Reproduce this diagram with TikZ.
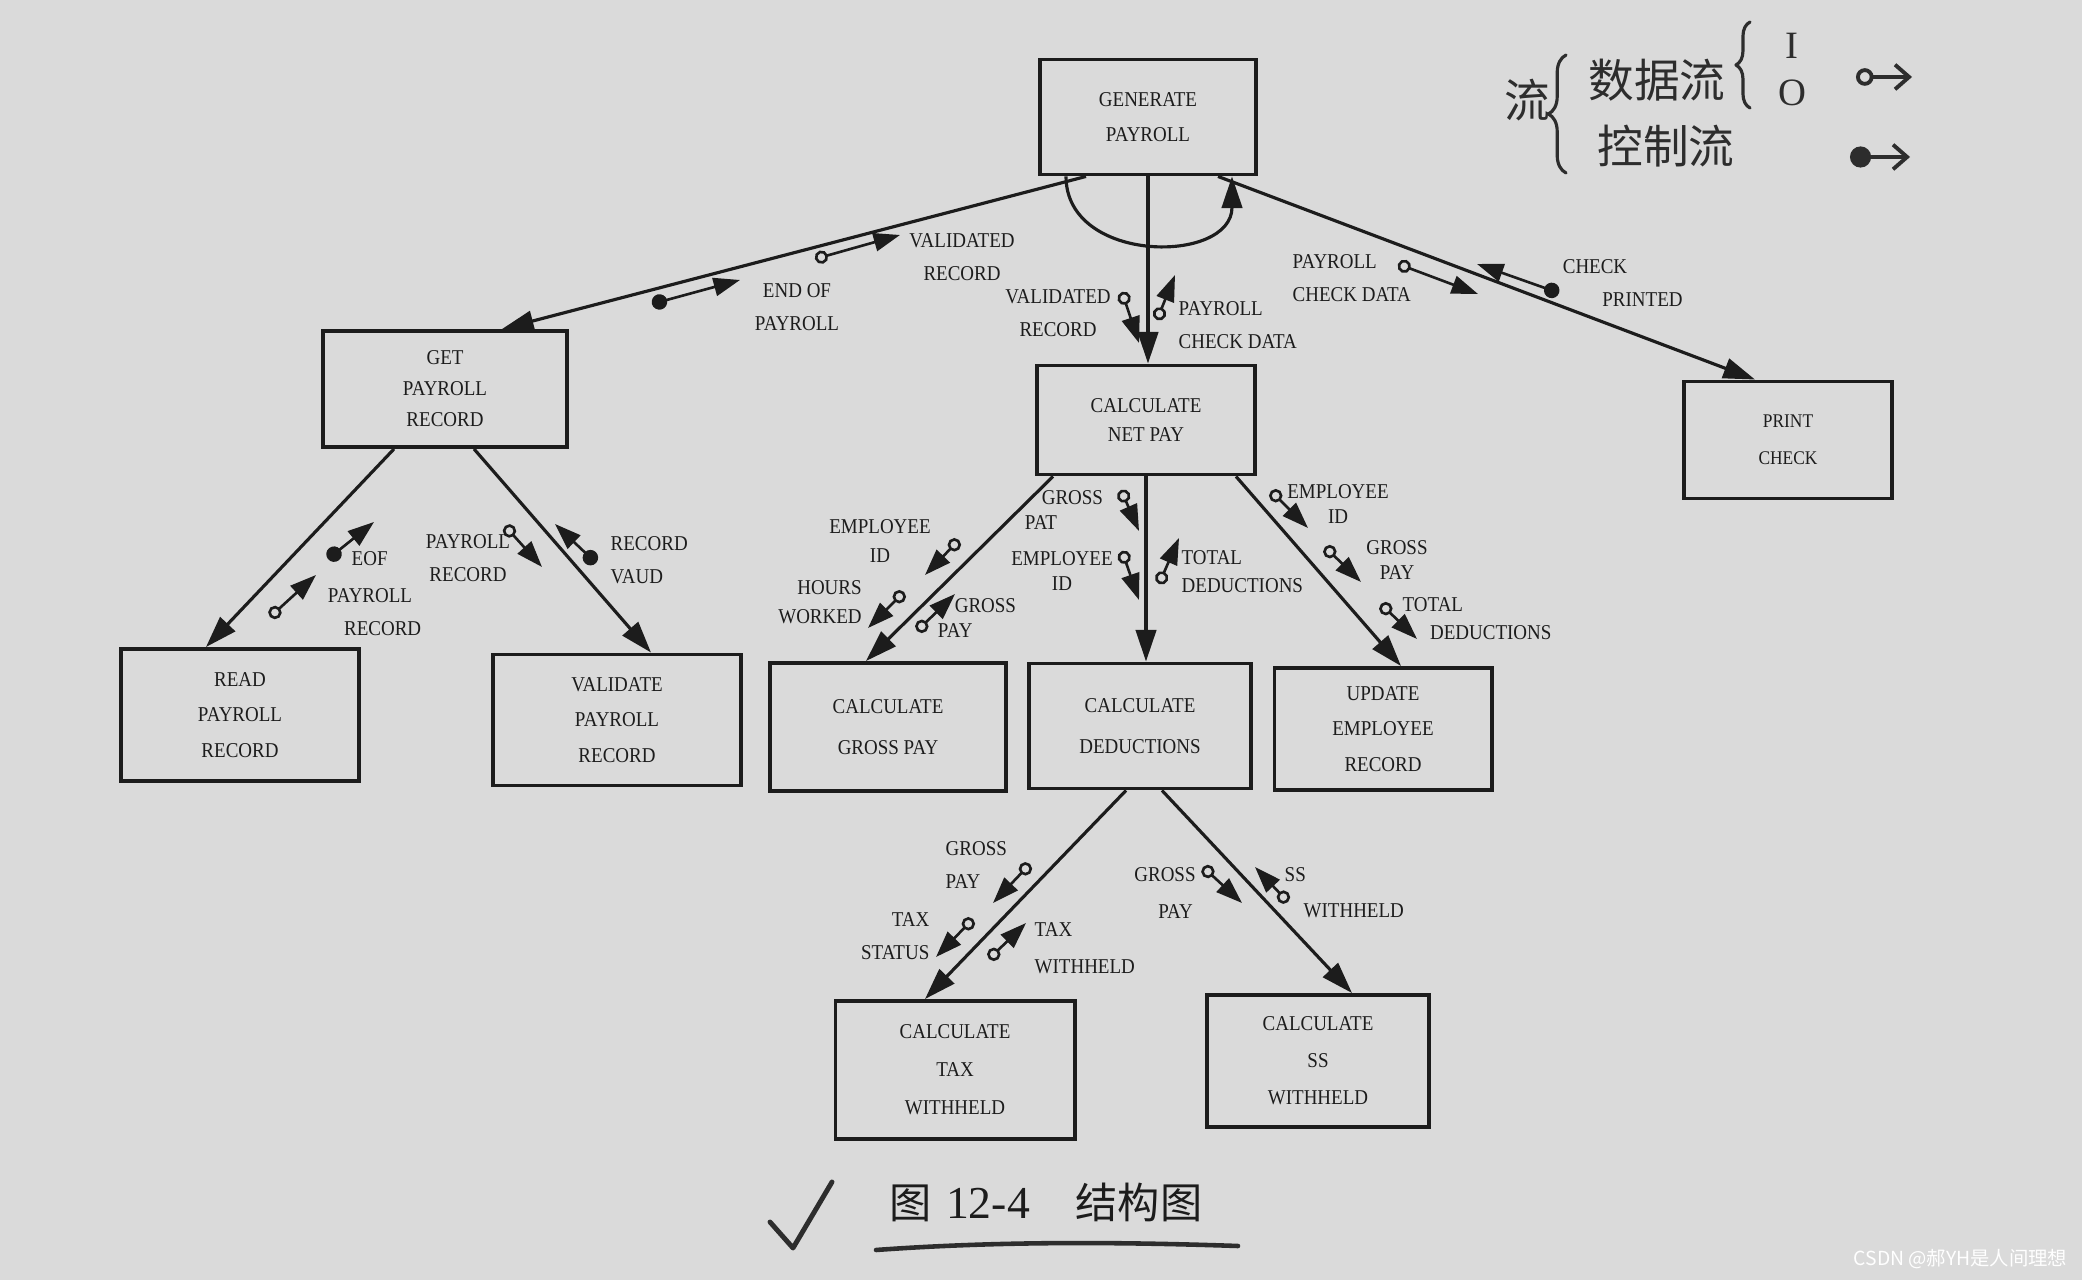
\documentclass[tikz,border=0pt]{standalone}
\usepackage{fontspec}
\setmainfont{Liberation Serif}
\newfontfamily\chartfont[FakeStretch=0.9]{Liberation Serif}
\newfontfamily\cjk{Noto Sans CJK SC}
\usetikzlibrary{arrows.meta,calc,decorations.pathreplacing}

\definecolor{paper}{RGB}{218,218,218}
\definecolor{ink}{RGB}{28,28,28}
\definecolor{pen}{RGB}{45,45,45}

% couple: style, name, tail, head
\newcommand{\couple}[4]{\coordinate (#2a) at #3; \coordinate (#2b) at #4; \draw[#1] (#2a) -- (#2b);}

\begin{document}
\begin{tikzpicture}[
    x=0.01cm, y=-0.01cm,
    module/.style={rectangle, draw=ink, line width=1.1pt, minimum width=2.2cm, minimum height=1.2cm, align=center, text=ink, font=\chartfont\fontsize{6}{10}\selectfont},
    call/.style={draw=ink, line width=0.9pt, -{Triangle[length=9pt,width=5.8pt]}},
    datacp/.style={draw=ink, line width=0.75pt, {Circle[open,length=3.8pt]}-{Triangle[length=7.5pt,width=5.2pt]}},
    ctrlcp/.style={draw=ink, line width=0.75pt, {Circle[length=4.4pt]}-{Triangle[length=7.5pt,width=5.2pt]}},
    cplabel/.style={align=center, text=ink, inner sep=0pt, font=\chartfont\fontsize{6}{9.4}\selectfont},
    tight/.style={font=\chartfont\fontsize{6}{7}\selectfont},
    hand/.style={draw=pen, line width=1.1pt, line cap=round, line join=round},
    handtext/.style={text=pen, inner sep=0pt, font=\cjk\fontsize{13}{13}\selectfont}
]
\useasboundingbox (0,0) rectangle (2082,1280);
\fill[paper] (0,0) rectangle (2082,1280);

% Top module
\node[module, minimum width=2.16cm, minimum height=1.15cm] (gen) at (1148,117) {GENERATE\\PAYROLL};

% Second level
\node[module, minimum width=2.44cm, minimum height=1.16cm, font=\chartfont\fontsize{6}{8.8}\selectfont] (get) at (445,389) {GET\\PAYROLL\\RECORD};
\node[module, minimum width=2.18cm, minimum height=1.09cm, font=\chartfont\fontsize{6}{8.3}\selectfont] (net) at (1146,420) {CALCULATE\\NET PAY};
\node[module, minimum width=2.08cm, minimum height=1.17cm, font=\chartfont\fontsize{5.5}{10.5}\selectfont] (prt) at (1788,440) {PRINT\\CHECK};

% Third level
\node[module, minimum width=2.37cm, minimum height=1.32cm] (read) at (240,715) {READ\\PAYROLL\\RECORD};
\node[module, minimum width=2.48cm, minimum height=1.31cm] (valid) at (617,720) {VALIDATE\\PAYROLL\\RECORD};
\node[module, minimum width=2.36cm, minimum height=1.28cm, font=\chartfont\fontsize{6}{11.5}\selectfont] (gross) at (888,727) {CALCULATE\\GROSS PAY};
\node[module, minimum width=2.22cm, minimum height=1.25cm, font=\chartfont\fontsize{6}{11.5}\selectfont] (ded) at (1140,726) {CALCULATE\\DEDUCTIONS};
\node[module, minimum width=2.17cm, minimum height=1.22cm] (upd) at (1383,729) {UPDATE\\EMPLOYEE\\RECORD};

% Fourth level
\node[module, minimum width=2.39cm, minimum height=1.38cm, font=\chartfont\fontsize{6}{10.8}\selectfont] (tax) at (955,1070) {CALCULATE\\TAX\\WITHHELD};
\node[module, minimum width=2.22cm, minimum height=1.32cm, font=\chartfont\fontsize{6}{10.5}\selectfont] (ss) at (1318,1061) {CALCULATE\\SS\\WITHHELD};

% Calls
\draw[call] ($(gen.south)+(-62,0)$) -- ($(get.north)+(57,0)$);
\draw[call] (gen.south) -- (gen.south |- net.north);
\draw[call] ($(gen.south)+(70,0)$) -- ($(prt.north)+(-33,0)$);
\draw[call] ($(gen.south)+(-82,0)$) .. controls +(0,88) and +(0,88) .. ($(gen.south)+(84,0)$);
\draw[call] ($(get.south)+(-51,0)$) -- ($(read.north)+(-34,0)$);
\draw[call] ($(get.south)+(29,0)$) -- ($(valid.north)+(34,0)$);
\draw[call] ($(net.south)+(-93,0)$) -- ($(gross.north)+(-22,0)$);
\draw[call] (net.south) -- (net.south |- ded.north);
\draw[call] ($(net.south)+(90,0)$) -- ($(upd.north)+(18,0)$);
\draw[call] ($(ded.south)+(-14,0)$) -- ($(tax.north)+(-30,0)$);
\draw[call] ($(ded.south)+(22,0)$) -- ($(ss.north)+(34,0)$);

% Couples: GENERATE PAYROLL - GET PAYROLL RECORD
\couple{ctrlcp}{c1}{(652,304)}{(740,280)}
\node[cplabel] (l1) at (797,307) {END OF\\PAYROLL};
\couple{datacp}{c2}{(815,259)}{(900,235)}
\node[cplabel] (l2) at (962,257) {VALIDATED\\RECORD};

% Couples: GENERATE PAYROLL - CALCULATE NET PAY
\couple{datacp}{c3}{(1122,292)}{(1139,343)}
\node[cplabel] (l3) at (1058,313) {VALIDATED\\RECORD};
\couple{datacp}{c4}{(1157,320)}{(1175,275)}
\node[cplabel, align=left, anchor=west] (l4) at (1178,325) {PAYROLL\\CHECK DATA};

% Couples: GENERATE PAYROLL - PRINT CHECK
\couple{datacp}{c5}{(1398,264)}{(1478,294)}
\node[cplabel, align=left, anchor=west] (l5) at (1292,278) {PAYROLL\\CHECK DATA};
\couple{ctrlcp}{c6}{(1559,293)}{(1477,264)}
\node[cplabel] (l6) at (1595,283) {CHECK\\\hspace{4.5em}PRINTED};

% Couples: GET PAYROLL RECORD - READ / VALIDATE
\couple{ctrlcp}{c7}{(328,559)}{(374,522)}
\node[cplabel, anchor=west] (l7) at (351,559) {EOF};
\couple{datacp}{c8}{(270,617)}{(316,575)}
\node[cplabel] (l8) at (370,612) {PAYROLL\\\hspace{1.2em}RECORD};
\couple{datacp}{c9}{(505,526)}{(542,567)}
\node[cplabel] (l9) at (468,558) {PAYROLL\\RECORD};
\couple{ctrlcp}{c10}{(596,563)}{(555,524)}
\node[cplabel, align=left, anchor=west] (l10) at (610,560) {RECORD\\VAUD};

% Couples: CALCULATE NET PAY - CALCULATE GROSS PAY
\couple{datacp}{c11}{(959,540)}{(925,575)}
\node[cplabel, font=\chartfont\fontsize{6}{8}\selectfont] (l11) at (880,541) {EMPLOYEE\\ID};
\couple{datacp}{c12}{(904,592)}{(868,628)}
\node[cplabel, align=right, font=\chartfont\fontsize{6}{8.3}\selectfont] (l12) at (820,602) {HOURS\\WORKED};
\couple{datacp}{c13}{(917,631)}{(955,594)}
\node[cplabel, align=left, tight] (l13) at (977,618) {\hspace{0.8em}GROSS\\PAY};

% Couples: CALCULATE NET PAY - CALCULATE DEDUCTIONS
\couple{datacp}{c14}{(1121,490)}{(1139,531)}
\node[cplabel, align=left, tight] (l14) at (1064,510) {\hspace{0.8em}GROSS\\PAT};
\couple{datacp}{c15}{(1122,551)}{(1139,600)}
\node[cplabel, tight] (l15) at (1062,571) {EMPLOYEE\\ID};
\couple{datacp}{c16}{(1159,584)}{(1179,538)}
\node[cplabel, align=left, anchor=west, font=\chartfont\fontsize{6}{8}\selectfont] (l16) at (1181,572) {TOTAL\\DEDUCTIONS};

% Couples: CALCULATE NET PAY - UPDATE EMPLOYEE RECORD
\couple{datacp}{c17}{(1271,491)}{(1308,528)}
\node[cplabel, tight] (l17) at (1338,504) {EMPLOYEE\\ID};
\couple{datacp}{c18}{(1325,547)}{(1361,582)}
\node[cplabel, tight] (l18) at (1397,560) {GROSS\\PAY};
\couple{datacp}{c19}{(1381,604)}{(1417,639)}
\node[cplabel, align=left, anchor=west, font=\chartfont\fontsize{6}{8}\selectfont] (l19) at (1402,619) {TOTAL\\\hspace{1.3em}DEDUCTIONS};

% Couples: CALCULATE DEDUCTIONS - CALCULATE TAX WITHHELD
\couple{datacp}{c20}{(1030,864)}{(993,903)}
\node[cplabel, align=left, anchor=west] (l20) at (945,865) {GROSS\\PAY};
\couple{datacp}{c21}{(973,919)}{(936,957)}
\node[cplabel, align=right, anchor=east] (l21) at (930,936) {TAX\\STATUS};
\couple{datacp}{c22}{(989,959)}{(1026,923)}
\node[cplabel, align=left, anchor=west, font=\chartfont\fontsize{6}{10.5}\selectfont] (l22) at (1034,948) {TAX\\WITHHELD};

% Couples: CALCULATE DEDUCTIONS - CALCULATE SS WITHHELD
\couple{datacp}{c23}{(1203,867)}{(1242,903)}
\node[cplabel, font=\chartfont\fontsize{6}{10.5}\selectfont] (l23) at (1165,893) {GROSS\\\hspace{1em}PAY};
\couple{datacp}{c24}{(1288,902)}{(1255,867)}
\node[cplabel, align=left, anchor=west, font=\chartfont\fontsize{6}{10.2}\selectfont] (l24) at (1284,893) {SS\\\hspace{0.9em}WITHHELD};

% Handwritten legend
\node[handtext] (flow) at (1527,100) {流};
\draw[hand, line width=0.9pt, decorate, decoration={brace, amplitude=5pt}] (1566,173) -- (1566,55);
\node[handtext] (dflow) at (1657,80) {数据流};
\node[handtext] (cflow) at (1666,146) {控制流};
\draw[hand, line width=0.9pt, decorate, decoration={brace, amplitude=4pt}] (1750,108) -- (1750,22);
\node[handtext, font=\fontsize{11}{11}\selectfont] (inp) at (1792,46) {I};
\node[handtext, font=\fontsize{11}{11}\selectfont] (outp) at (1792,93) {O};
\coordinate (da) at (1856,77);
\coordinate (db) at (1912,77);
\draw[hand, {Circle[open,length=5pt]}-{Straight Barb[length=4pt,width=7pt]}] (da) -- (db);
\coordinate (ca) at (1850,157);
\coordinate (cb) at (1910,157);
\draw[hand, {Circle[length=6pt]}-{Straight Barb[length=4pt,width=7pt]}] (ca) -- (cb);

% Caption
\node[text=ink, inner sep=0pt, font=\fontsize{13}{13}\selectfont] (caption) at (1046,1202) {{\cjk\fontsize{12}{12}\selectfont 图}\hspace{4pt}12-4\hspace{13pt}{\cjk\fontsize{12}{12}\selectfont 结构图}};
\draw[hand, line width=1.4pt] (770,1222) -- (793,1248) -- (832,1182);
\draw[hand, line width=1.3pt] (876,1250) .. controls (1000,1241) and (1120,1242) .. (1238,1246);

% Watermark
\node[text=white, inner sep=0pt, anchor=east, font=\cjk\fontsize{5.5}{6}\selectfont] (wm) at (2068,1259) {CSDN @郝YH是人间理想};

\end{tikzpicture}
\end{document}
